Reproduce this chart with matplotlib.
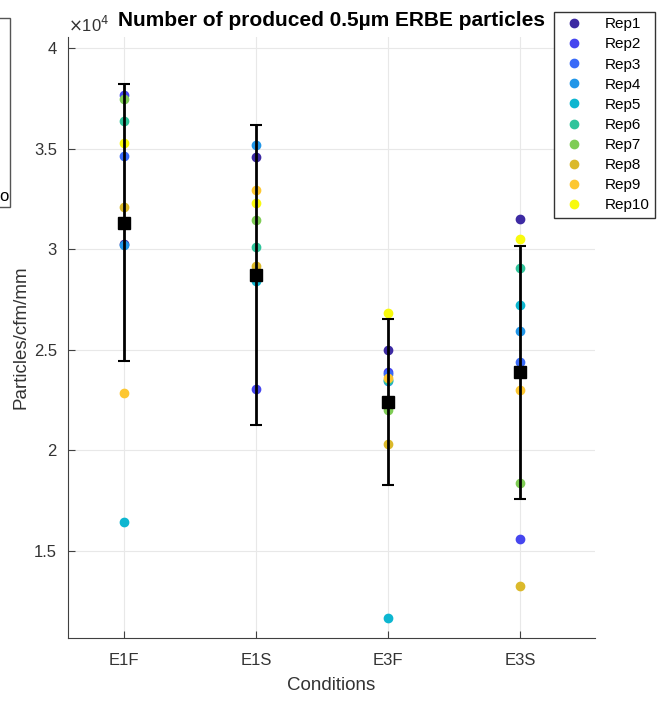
import numpy as np
import matplotlib.pyplot as plt
from matplotlib.patches import Rectangle
from matplotlib.ticker import FuncFormatter

plt.rcParams['font.family'] = ['Liberation Sans', 'DejaVu Sans']

# Conditions et répétitions
conditions = ["E1F", "E1S", "E3F", "E3S"]
reps = [f"Rep{i}" for i in range(1, 11)]

# Valeurs (particules/cfm/mm), une liste par répétition
rep1 = [30250, 34560, 25000, 31480]
rep2 = [37670, 23050, 23900, 15600]
rep3 = [34610, 10000, 23800, 24400]
rep4 = [30200, 35180, 23450, 25920]
rep5 = [16410, 28410, 11650, 27220]
rep6 = [36380, 30090, 23500, 29040]
rep7 = [37490, 31470, 22000, 18370]
rep8 = [32080, 29160, 20300, 13270]
rep9 = [22820, 32930, 23600, 22970]
rep10 = [35300, 32270, 26840, 30490]

colors = ['#3d2aa3', '#4646ef', '#3a6bf8', '#2196e8', '#0db6d0',
          '#2fc49b', '#7fcc55', '#dbb92b', '#fdc731', '#f8fa0d']

data = np.array([rep1, rep2, rep3, rep4, rep5, rep6, rep7, rep8, rep9, rep10], dtype=float)
means = data.mean(axis=0)
stds = data.std(axis=0, ddof=1)

fig = plt.figure(figsize=(6.63, 7.02), dpi=100)
ax = fig.add_axes([68/663, 64/702, 527/663, 601/702])

x = np.arange(1, len(conditions) + 1)

# Points de chaque répétition
for i, rep in enumerate(reps):
    ax.plot(x, data[i], 'o', color=colors[i], markersize=6, linestyle='none',
            label=rep, zorder=2)

# Moyenne et écart-type
ax.errorbar(x, means, yerr=stds, fmt='none', ecolor='black', elinewidth=2,
            capsize=4.5, capthick=1.5, zorder=3)
ax.plot(x, means, 's', color='black', markersize=9, zorder=4)

# Axes
ax.set_xlim(0.576, 4.568)
ax.set_ylim(10660, 40550)
ax.set_xticks(x)
ax.set_xticklabels(conditions)
ax.set_yticks([15000, 20000, 25000, 30000, 35000, 40000])
ax.yaxis.set_major_formatter(FuncFormatter(lambda v, p: f"{v/1e4:g}"))
ax.tick_params(direction='in', length=5, labelsize=12, colors='#404040',
               labelcolor='#333333', top=False, right=False)
ax.tick_params(axis='x', pad=11)
ax.tick_params(axis='y', pad=8)
ax.grid(True, color='#e8e8e8', linewidth=0.8)
ax.set_axisbelow(True)
for s in ['top', 'right']:
    ax.spines[s].set_visible(False)
for s in ['left', 'bottom']:
    ax.spines[s].set_color('#404040')
    ax.spines[s].set_linewidth(0.8)

ax.set_xlabel("Conditions", fontsize=13.5, color='#333333', labelpad=6)
ax.set_ylabel("Particles/cfm/mm", fontsize=13.5, color='#333333', labelpad=3)
ax.set_title("Number of produced 0.5µm ERBE particles", fontsize=15,
             fontweight='bold', pad=8)
fig.text(68/663, 1 - 25/702, r"$\times$10$^4$", fontsize=12, color='#333333',
         va='center', ha='left')

# Légende
fig.legend(loc='upper right', bbox_to_anchor=(655/663, 1 - 12/702), fontsize=11,
           frameon=True, fancybox=False, edgecolor='#333333', framealpha=1,
           borderpad=0.35, labelspacing=0.4, handletextpad=1.0, borderaxespad=0)

# Légende tronquée d'une autre figure sur le bord gauche
fig.patches.append(Rectangle((-0.05, 1 - 207/702), 0.05 + 10/663, 189/702,
                             transform=fig.transFigure, fill=False,
                             edgecolor='#555555', linewidth=1))
fig.text(9/663, 1 - 196/702, "o", fontsize=12, ha='right', va='center')

fig.savefig("out.png", dpi=100)
